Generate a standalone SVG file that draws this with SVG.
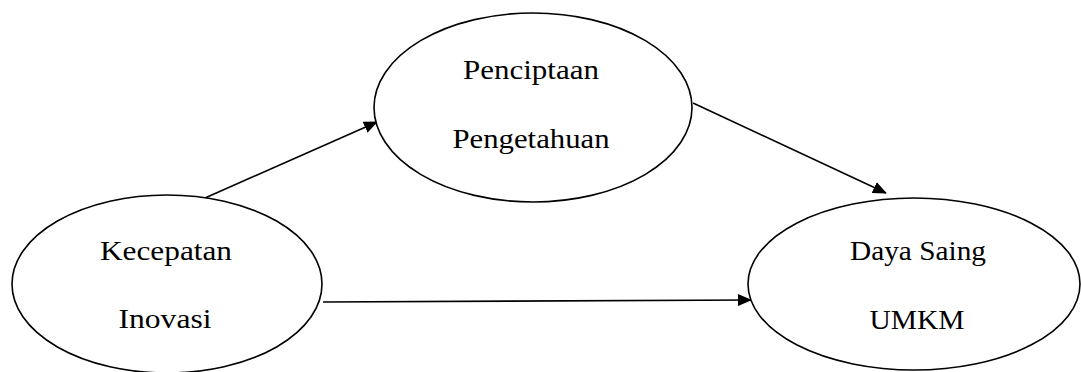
<svg xmlns="http://www.w3.org/2000/svg" width="1081" height="372" viewBox="0 0 1081 372">
<style>
.node ellipse{fill:#fff;stroke:#000;stroke-width:1.6}
.node text{font-family:"Liberation Serif","Times New Roman",serif;font-size:28px;fill:#000;text-anchor:middle}
.conn line{stroke:#000;stroke-width:1.6;fill:none}
</style>
<defs>
<marker id="ah" markerWidth="14" markerHeight="12" refX="13" refY="6" orient="auto" markerUnits="userSpaceOnUse">
<path d="M0,0 L14,6 L0,12 Z" fill="#000"/>
</marker>
</defs>
<rect width="1081" height="372" fill="#fff"/>
<g id="connectors" class="conn">
<line x1="205" y1="198" x2="377" y2="122" marker-end="url(#ah)"/>
<line x1="693" y1="103" x2="886" y2="193" marker-end="url(#ah)"/>
<line x1="323" y1="302" x2="751" y2="300" marker-end="url(#ah)"/>
</g>
<g id="node-penciptaan" class="node">
<ellipse cx="533" cy="107.5" rx="159" ry="94.5"/>
<text x="531" y="79" textLength="136" lengthAdjust="spacingAndGlyphs">Penciptaan</text>
<text x="531" y="148" textLength="157" lengthAdjust="spacingAndGlyphs">Pengetahuan</text>
</g>
<g id="node-kecepatan" class="node">
<ellipse cx="167" cy="284" rx="155" ry="89"/>
<text x="166" y="260" textLength="132" lengthAdjust="spacingAndGlyphs">Kecepatan</text>
<text x="165" y="328" textLength="93" lengthAdjust="spacingAndGlyphs">Inovasi</text>
</g>
<g id="node-dayasaing" class="node">
<ellipse cx="914" cy="284" rx="166" ry="86"/>
<text x="918" y="260" textLength="136" lengthAdjust="spacingAndGlyphs">Daya Saing</text>
<text x="917" y="329" textLength="95" lengthAdjust="spacingAndGlyphs">UMKM</text>
</g>
</svg>
